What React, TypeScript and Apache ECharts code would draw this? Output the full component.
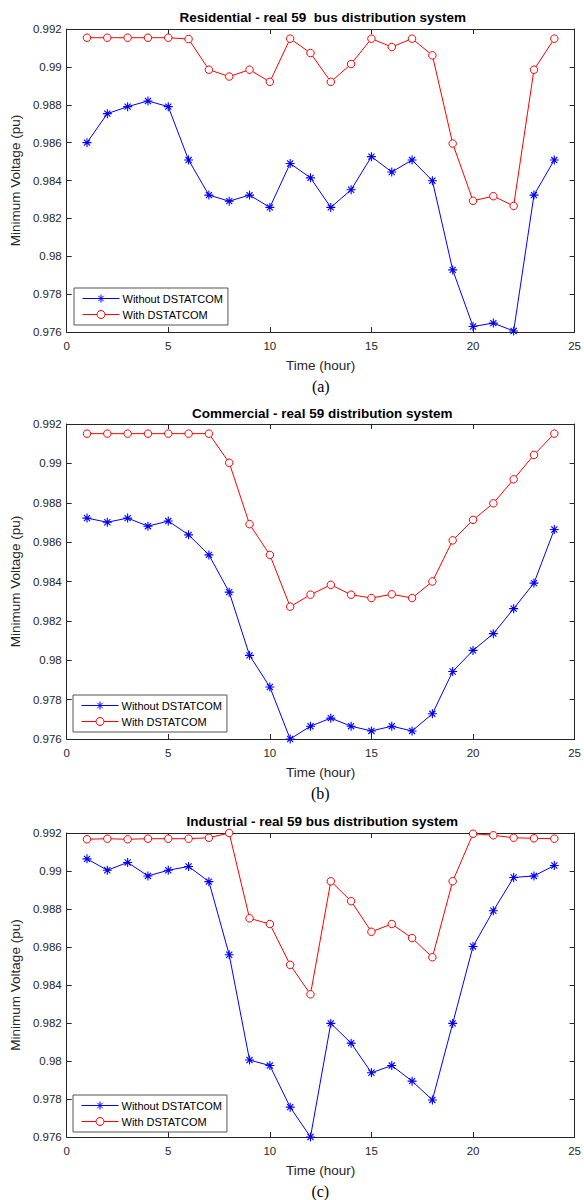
import React, { useEffect, useRef } from "react";
import * as echarts from "echarts";

const hours = [1, 2, 3, 4, 5, 6, 7, 8, 9, 10, 11, 12, 13, 14, 15, 16, 17, 18, 19, 20, 21, 22, 23, 24];
const xTicks = [0, 5, 10, 15, 20, 25];
const yTicks = [0.976, 0.978, 0.98, 0.982, 0.984, 0.986, 0.988, 0.99, 0.992];

const resWithout = [0.986, 0.98753, 0.9879, 0.9882, 0.9879, 0.98508, 0.98323, 0.98291, 0.98323, 0.98258, 0.9849, 0.98414, 0.98258, 0.98351, 0.98526, 0.98445, 0.98508, 0.98399, 0.97928, 0.97629, 0.97647, 0.97605, 0.98323, 0.98508];
const resWith = [0.99154, 0.99154, 0.99154, 0.99154, 0.99154, 0.99147, 0.98985, 0.98949, 0.98985, 0.98921, 0.99149, 0.99073, 0.98921, 0.99015, 0.99149, 0.99105, 0.99149, 0.99061, 0.98595, 0.98293, 0.98317, 0.98266, 0.98985, 0.99149];

const comWithout = [0.98722, 0.98701, 0.98722, 0.98681, 0.98707, 0.98637, 0.98535, 0.98346, 0.98025, 0.97864, 0.976, 0.97665, 0.97706, 0.97665, 0.97641, 0.97665, 0.97641, 0.97728, 0.97943, 0.9805, 0.98135, 0.98262, 0.98392, 0.98664];
const comWith = [0.99151, 0.99151, 0.99151, 0.99151, 0.99151, 0.99151, 0.99151, 0.99003, 0.98691, 0.98535, 0.98272, 0.98333, 0.98383, 0.98333, 0.98316, 0.98335, 0.98316, 0.984, 0.98609, 0.98713, 0.98797, 0.98919, 0.99043, 0.99151];

const indWithout = [0.99064, 0.99004, 0.99045, 0.98974, 0.99004, 0.99024, 0.98944, 0.98559, 0.98005, 0.97976, 0.97757, 0.976, 0.98198, 0.98094, 0.97938, 0.97976, 0.97894, 0.97795, 0.98198, 0.98603, 0.98791, 0.98966, 0.98974, 0.99029];
const indWith = [0.99167, 0.9917, 0.99167, 0.9917, 0.9917, 0.9917, 0.99175, 0.992, 0.98751, 0.98721, 0.98506, 0.98351, 0.98946, 0.98841, 0.9868, 0.98721, 0.98647, 0.98546, 0.98946, 0.99196, 0.99188, 0.99175, 0.99172, 0.9917];

const titles = [
  "Residential - real 59  bus distribution system",
  "Commercial - real 59 distribution system",
  "Industrial - real 59 bus distribution system",
];
const captions = ["(a)", "(b)", "(c)"];
const seriesNames = ["Without DSTATCOM", "With DSTATCOM"];
const xName = "Time (hour)";
const yName = "Minimum Voltage (pu)";

const panels = [
  { without: resWithout, withD: resWith },
  { without: comWithout, withD: comWith },
  { without: indWithout, withD: indWith },
];

const layout = [
  { left: 66, top: 29, height: 303, titleY: 17.5, legendTop: 288 },
  { left: 65, top: 424, height: 315, titleY: 413, legendTop: 695 },
  { left: 65, top: 833, height: 304, titleY: 821, legendTop: 1095 },
];
const RIGHT = 579.5;

const FONT = "'Liberation Sans', Arial, Helvetica, sans-serif";
const AX = "#262626";
const BLUE = "#0000ff";
const RED = "#ff0000";
const ASTERISK = "path://M5,0L5,10M0,5L10,5M1.6,1.6L8.4,8.4M1.6,8.4L8.4,1.6";

export default function App() {
  const ref = useRef<HTMLDivElement>(null);
  useEffect(() => {
    if (!ref.current) return;
    const chart = echarts.init(ref.current, undefined, { renderer: "svg" });
    const grids: any[] = [];
    const xAxes: any[] = [];
    const yAxes: any[] = [];
    const series: any[] = [];
    const legends: any[] = [];
    const graphics: any[] = [];
    const xMin = xTicks[0];
    const xMax = xTicks[xTicks.length - 1];
    const xInt = xTicks[1] - xTicks[0];
    const yMin = yTicks[0];
    const yMax = yTicks[yTicks.length - 1];
    const yInt = 0.002;
    const fmt = (v: number) => String(parseFloat(v.toFixed(3)));

    layout.forEach((L, i) => {
      const width = RIGHT - L.left;
      grids.push({ left: L.left, top: L.top, width, height: L.height, containLabel: false });
      const common = {
        gridIndex: i,
        type: "value",
        axisLine: { show: true, onZero: false, lineStyle: { color: AX, width: 1 } },
        axisTick: { show: true, inside: true, length: 5, lineStyle: { color: AX, width: 1 } },
        splitLine: { show: false },
      };
      xAxes.push({
        ...common,
        position: "bottom",
        min: xMin,
        max: xMax,
        interval: xInt,
        axisLabel: { show: true, color: AX, fontSize: 11.5, fontFamily: FONT, margin: 8 },
        name: xName,
        nameLocation: "middle",
        nameGap: 26,
        nameTextStyle: { color: AX, fontSize: 13.5, fontFamily: FONT },
      });
      xAxes.push({
        ...common,
        position: "top",
        min: xMin,
        max: xMax,
        interval: xInt,
        axisLabel: { show: false },
      });
      yAxes.push({
        ...common,
        position: "left",
        min: yMin,
        max: yMax,
        interval: yInt,
        axisLabel: { show: true, color: AX, fontSize: 11.5, fontFamily: FONT, margin: 5, formatter: fmt },
        name: yName,
        nameLocation: "middle",
        nameGap: 41,
        nameTextStyle: { color: AX, fontSize: 13.5, fontFamily: FONT },
      });
      yAxes.push({
        ...common,
        position: "right",
        min: yMin,
        max: yMax,
        interval: yInt,
        axisLabel: { show: false },
      });
      const P = panels[i];
      series.push({
        name: seriesNames[0],
        type: "line",
        xAxisIndex: i * 2,
        yAxisIndex: i * 2,
        data: hours.map((h, k) => [h, P.without[k]]),
        symbol: ASTERISK,
        symbolSize: 9,
        lineStyle: { color: BLUE, width: 1 },
        itemStyle: { color: BLUE, borderColor: BLUE, borderWidth: 1.1 },
        clip: false,
        z: 3,
      });
      series.push({
        name: seriesNames[1],
        type: "line",
        xAxisIndex: i * 2,
        yAxisIndex: i * 2,
        data: hours.map((h, k) => [h, P.withD[k]]),
        symbol: "circle",
        symbolSize: 7.5,
        lineStyle: { color: RED, width: 1 },
        itemStyle: { color: "#ffffff", borderColor: RED, borderWidth: 1 },
        clip: false,
        z: 3,
      });
      legends.push({
        orient: "vertical",
        left: L.left + 8,
        top: L.legendTop,
        data: [
          { name: seriesNames[0], itemStyle: { color: BLUE, borderColor: BLUE, borderWidth: 1 } },
          { name: seriesNames[1], itemStyle: { color: "#ffffff", borderColor: RED, borderWidth: 1 } },
        ],
        itemWidth: 37,
        itemHeight: 10,
        itemGap: 5,
        padding: [5, 5, 5, 8],
        backgroundColor: "#ffffff",
        borderColor: "#555555",
        borderWidth: 1,
        borderRadius: 0,
        selectedMode: false,
        lineStyle: { width: 1 },
        itemStyle: { borderWidth: 1 },
        textStyle: { color: "#000000", fontSize: 11, fontFamily: FONT, padding: [0, 0, 0, -2] },
        z: 10,
      });
      const cx = L.left + width / 2;
      graphics.push({
        type: "text",
        x: cx,
        y: L.titleY,
        style: {
          text: titles[i],
          fill: "#000000",
          font: `bold 13.5px ${FONT}`,
          textAlign: "center",
          textVerticalAlign: "middle",
        },
      });
      graphics.push({
        type: "text",
        x: cx - 2,
        y: L.top + L.height + 54,
        style: {
          text: captions[i],
          fill: "#000000",
          font: `16px 'Liberation Serif', 'Times New Roman', serif`,
          textAlign: "center",
          textVerticalAlign: "middle",
        },
      });
    });

    chart.setOption({
      animation: false,
      backgroundColor: "#ffffff",
      grid: grids,
      xAxis: xAxes,
      yAxis: yAxes,
      series,
      legend: legends,
      graphic: graphics,
    });
    return () => chart.dispose();
  }, []);
  return (
    <div
      ref={ref}
      style={{ position: "absolute", left: 0, top: 0, width: 584, height: 1200, background: "#fff" }}
    />
  );
}
